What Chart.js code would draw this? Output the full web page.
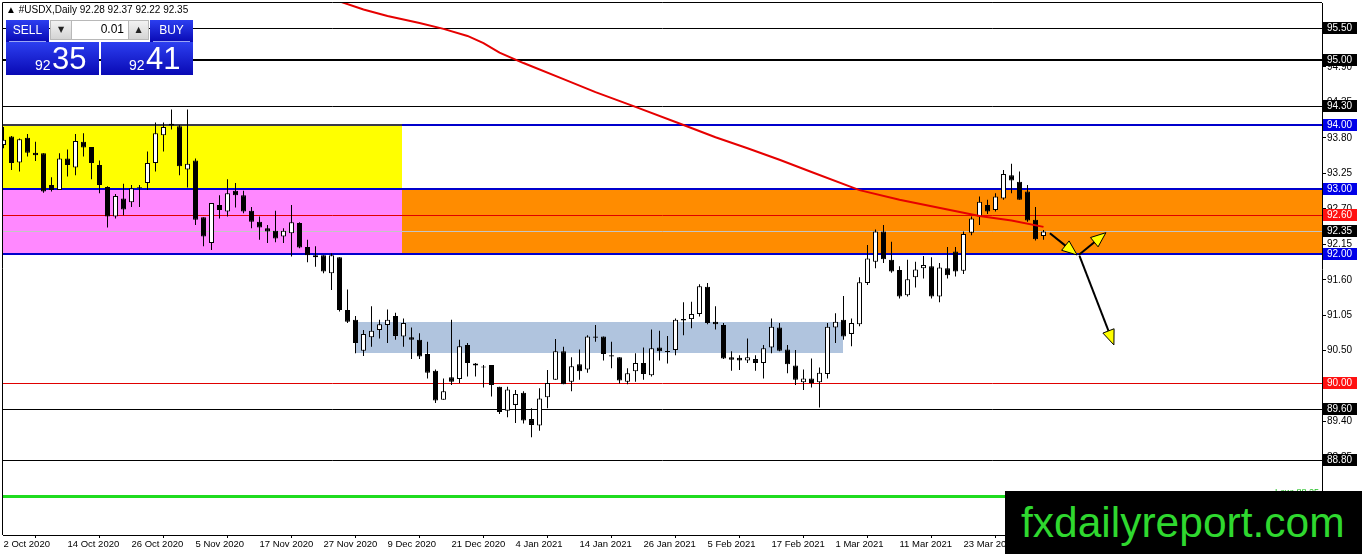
<!DOCTYPE html>
<html>
<head>
<meta charset="utf-8">
<script src="https://cdn.jsdelivr.net/npm/chart.js@4.4.0/dist/chart.umd.min.js"></script>
<style>
html,body{margin:0;padding:0;background:#fff;overflow:hidden}
#wrap{position:relative;width:1362px;height:554px;background:#fff}
#c{position:absolute;left:0;top:0}
.t{position:absolute;font-family:"Liberation Sans",Arial,sans-serif;white-space:nowrap}
#title{left:6px;top:4px;font-size:10px;color:#000}
.blue{position:absolute;background:linear-gradient(#2c3ff0,#0909b4)}
.btn{position:absolute;color:#fff;font-family:"Liberation Sans",Arial,sans-serif;font-size:12px;text-align:center;line-height:21px}
.uline{position:absolute;height:1px;background:#9aa6f5}
.spin{position:absolute;background:linear-gradient(#f2f2f2,#d4d4d4);border:1px solid #b8b8b8;box-sizing:border-box;font-size:8px;text-align:center;line-height:17px;color:#222;font-family:"DejaVu Sans",sans-serif}
.inp{position:absolute;background:#fff;border:1px solid #b8b8b8;box-sizing:border-box;font-family:"Liberation Sans",Arial,sans-serif;font-size:12px;text-align:right;padding-right:4px;line-height:17px;color:#000}
.big{position:absolute;height:33px;color:#fff;font-family:"Liberation Sans",Arial,sans-serif}
.big .s{position:absolute;font-size:14px;top:15px}
.big .l{position:absolute;font-size:31px;top:-1px}
#wm{position:absolute;left:1005px;top:491px;width:357px;height:63px;background:#000;color:#2fd82f;font-family:"Liberation Sans",Arial,sans-serif;font-size:42.5px;line-height:63px;text-indent:16px;white-space:nowrap;overflow:hidden}
</style>
</head>
<body>
<div id="wrap">
<canvas id="c" width="1362" height="554"></canvas>
<div id="title" class="t"></div>
<div class="blue" style="left:6px;top:20px;width:43px;height:22px"></div>
<div class="blue" style="left:150px;top:20px;width:43px;height:22px"></div>
<div class="blue" style="left:6px;top:42px;width:93px;height:33px"></div>
<div class="blue" style="left:101px;top:42px;width:92px;height:33px"></div>
<div class="btn" style="left:6px;top:20px;width:43px;height:21px">SELL</div>
<div class="btn" style="left:150px;top:20px;width:43px;height:21px">BUY</div>
<div class="uline" style="left:9px;top:41px;width:37px"></div>
<div class="uline" style="left:153px;top:41px;width:37px"></div>
<div class="spin" style="left:50px;top:20px;width:22px;height:20px">▼</div>
<div class="inp" style="left:71px;top:20px;width:58px;height:20px">0.01</div>
<div class="spin" style="left:128px;top:20px;width:21px;height:20px">▲</div>
<div class="big" style="left:6px;top:42px;width:93px"><span class="s" style="left:29px">92</span><span class="l" style="left:46px">35</span></div>
<div class="big" style="left:101px;top:42px;width:92px"><span class="s" style="left:28px">92</span><span class="l" style="left:45px">41</span></div>
<div id="wm">fxdailyreport.com</div>
</div>
<script>
// ---------- DATA ----------
const symbolName = '#USDX,Daily';
const opens = [93.69,93.82,93.42,93.80,93.57,93.56,93.07,92.99,93.48,93.34,
93.74,93.66,93.38,93.04,92.58,92.86,92.80,93.02,93.10,93.41,
93.84,94.02,93.98,93.31,93.45,92.57,92.17,92.76,92.66,92.98,
92.91,92.67,92.50,92.40,92.36,92.27,92.32,92.48,92.11,91.98,
91.98,91.70,91.95,91.13,90.98,90.50,90.71,90.82,90.90,91.04,
90.72,90.71,90.67,90.45,90.19,89.74,90.09,90.06,90.59,90.27,
90.25,90.28,89.94,89.57,89.66,89.85,89.44,89.34,89.78,90.05,
90.49,90.02,90.29,90.21,90.72,90.72,90.43,90.40,90.02,90.18,
90.31,90.12,90.55,90.48,90.51,90.99,90.99,91.07,91.49,90.95,
90.90,90.40,90.39,90.35,90.37,90.31,90.55,90.86,90.52,90.27,
90.01,90.07,90.01,90.14,90.86,90.98,90.76,90.91,91.55,91.88,
92.35,91.91,91.75,91.36,91.64,91.78,91.81,91.34,91.78,92.04,
91.74,92.33,92.58,92.76,92.68,92.86,93.22,93.12,92.97,92.53,
92.28];
const highs = [93.97,93.83,93.79,93.86,93.74,93.56,93.19,93.56,93.62,93.86,
93.87,93.66,93.45,93.05,92.93,93.09,93.07,93.07,93.59,94.04,
94.04,94.24,94.00,94.24,93.48,92.57,92.79,92.91,93.16,93.10,
92.98,92.73,92.58,92.45,92.67,92.40,92.76,92.49,92.22,92.12,
91.98,92.01,91.95,91.45,91.04,90.82,91.19,90.98,91.14,91.09,
91.00,90.86,90.77,90.64,90.21,90.07,90.98,90.67,90.62,90.31,
90.28,90.28,89.94,89.94,89.89,89.87,89.61,89.92,90.20,90.68,
90.56,90.40,90.52,90.74,90.90,90.72,90.64,90.40,90.23,90.46,
90.55,90.83,90.81,90.73,91.00,91.25,91.26,91.53,91.55,91.19,
90.93,90.49,90.43,90.69,90.43,90.59,91.00,90.93,90.59,90.51,
90.21,90.38,90.24,90.93,91.08,91.35,91.00,91.64,92.14,92.38,
92.45,92.19,91.81,91.91,91.88,91.97,91.95,91.86,92.11,92.11,
92.35,92.58,92.89,92.84,92.94,93.30,93.40,93.28,93.07,92.73,
92.37];
const lows = [93.64,93.30,93.28,93.51,93.44,92.95,92.97,92.99,93.20,93.22,
93.51,93.16,92.94,92.41,92.55,92.60,92.73,92.73,92.99,93.28,
93.59,93.93,93.22,93.03,92.45,92.12,92.06,92.55,92.58,92.72,
92.63,92.40,92.22,92.17,92.18,92.17,91.96,92.09,91.87,91.80,
91.70,91.44,91.11,90.93,90.46,90.42,90.56,90.69,90.62,90.67,
90.56,90.37,90.37,90.07,89.69,89.74,89.97,90.00,90.10,90.10,
89.93,89.79,89.52,89.47,89.38,89.37,89.16,89.26,89.61,90.05,
89.98,89.87,90.05,90.16,90.64,90.35,90.23,89.99,89.98,90.02,
90.05,90.10,90.35,90.30,90.43,90.74,90.85,91.03,90.91,90.83,
90.37,90.19,90.20,90.31,90.19,90.07,90.46,90.49,90.15,89.97,
89.89,89.93,89.62,90.07,90.62,90.67,90.57,90.88,91.52,91.78,
91.86,91.71,91.31,91.34,91.48,91.62,91.31,91.25,91.62,91.65,
91.69,92.29,92.45,92.62,92.66,92.84,92.94,92.84,92.50,92.21,
92.22];
const closes = [93.77,93.41,93.78,93.57,93.53,92.97,92.99,93.48,93.38,93.75,
93.65,93.41,93.07,92.58,92.90,92.69,93.02,93.03,93.41,93.87,
93.97,93.99,93.36,93.40,92.53,92.27,92.79,92.68,92.94,92.91,
92.66,92.50,92.41,92.35,92.24,92.36,92.49,92.10,91.98,91.95,
91.73,91.98,91.13,90.95,90.62,90.76,90.81,90.91,90.98,90.73,
90.93,90.67,90.41,90.16,89.73,89.87,90.02,90.57,90.31,90.30,
90.24,89.97,89.55,89.90,89.83,89.42,89.35,89.76,90.00,90.49,
89.98,90.26,90.18,90.72,90.70,90.45,90.41,90.04,90.15,90.31,
90.14,90.54,90.49,90.49,90.98,90.97,91.07,91.50,90.93,90.91,
90.38,90.36,90.35,90.40,90.31,90.54,90.87,90.50,90.29,90.05,
90.07,90.00,90.16,90.87,90.95,90.72,90.93,91.56,91.93,92.35,
91.92,91.73,91.34,91.61,91.76,91.83,91.34,91.79,91.67,91.73,
92.31,92.55,92.81,92.66,92.89,93.24,93.14,92.84,92.52,92.23,
92.35];

// moving average read at these bar numbers
const maBars   = [40, 45, 48, 52, 55, 58, 60, 62, 65, 70, 74, 79, 85, 89, 93, 97, 101, 107, 112, 118, 122, 126, 130];
const maValues = [96.00, 95.79, 95.69, 95.58, 95.49, 95.38, 95.27, 95.12, 94.96, 94.71, 94.51, 94.28, 94.00, 93.81, 93.64, 93.46, 93.27, 92.99, 92.84, 92.69, 92.59, 92.52, 92.42];

// axis ticks
const priceTicks = [88.85, 89.40, 89.95, 90.50, 91.05, 91.60, 92.15, 92.70, 93.25, 93.80, 94.35, 94.90, 95.45];
const dateTickBars = [0, 8, 16, 24, 32, 40, 48, 56, 64, 72, 80, 88, 96, 104, 112, 120];
const dateTickLabels = ['2 Oct 2020','14 Oct 2020','26 Oct 2020','5 Nov 2020','17 Nov 2020','27 Nov 2020','9 Dec 2020','21 Dec 2020','4 Jan 2021','14 Jan 2021','26 Jan 2021','5 Feb 2021','17 Feb 2021','1 Mar 2021','11 Mar 2021','23 Mar 2021'];

// horizontal levels
const levelValues = [95.50, 95.00, 94.30, 94.00, 93.00, 92.60, 92.35, 92.00, 90.00, 89.60, 88.80];
const levelKinds  = ['black','black2','black','blue','blue','red','price','blue','red','black','black'];
const lowValue = 88.25;

// zones (bar range and price range)
const zoneFromBar = [-1, -1, 49.8, 43.95];
const zoneToBar   = [49.8, 49.8, 170, 104.95];
const zoneLow     = [93.00, 92.00, 92.00, 90.47];
const zoneHigh    = [94.02, 93.00, 93.00, 90.95];
const zoneKinds   = ['yellow','pink','orange','steel'];

// drawn arrows (bar, price)
const arrowFrom = [[130.8, 92.32], [134.4, 91.985], [134.5, 91.97]];
const arrowTo   = [[134.2, 91.985], [137.8, 92.33], [138.8, 90.59]];

// ---------- STYLES ----------
const zoneColors = {yellow:'#ffff00', pink:'#ff88ff', orange:'#ff8c00', steel:'#b0c4de'};
const levelStyles = {
  black:{line:'#000000', w:1, box:'#000000'},
  black2:{line:'#000000', w:2, box:'#000000'},
  blue:{line:'#0000cc', w:2, box:'#0000e8'},
  red:{line:'#e00000', w:1, box:'#ff1010'},
  price:{line:'#c4c4c4', w:1, box:'#000000'}
};
const FONT = '"Liberation Sans", Arial, sans-serif';

const n = closes.length;
document.getElementById('title').textContent =
  '\u25B2 ' + symbolName + '  ' + [opens[n-1], highs[n-1], lows[n-1], closes[n-1]].map(v => v.toFixed(2)).join(' ');

const overlay = {
  id: 'overlay',
  beforeDatasetsDraw(chart) {
    const {ctx, chartArea: a, scales: {x, y}} = chart;
    ctx.save();
    ctx.beginPath(); ctx.rect(a.left, a.top, a.right - a.left, a.bottom - a.top); ctx.clip();
    zoneKinds.forEach((k, i) => {
      const x1 = Math.round(x.getPixelForValue(zoneFromBar[i]));
      const x2 = Math.round(x.getPixelForValue(zoneToBar[i]));
      const y1 = Math.round(y.getPixelForValue(zoneHigh[i]));
      const y2 = Math.round(y.getPixelForValue(zoneLow[i]));
      ctx.fillStyle = zoneColors[k];
      ctx.fillRect(x1, y1, x2 - x1, y2 - y1);
    });
    levelValues.forEach((v, i) => {
      const st = levelStyles[levelKinds[i]];
      let py = Math.round(y.getPixelForValue(v));
      if (st.w % 2 === 1) py += 0.5;
      ctx.strokeStyle = st.line; ctx.lineWidth = st.w;
      ctx.beginPath(); ctx.moveTo(a.left, py); ctx.lineTo(a.right, py); ctx.stroke();
      // a line lying on the top edge of the yellow zone shows dark over it
      if (Math.abs(v - zoneHigh[0]) < 0.05) {
        const xe = Math.round(x.getPixelForValue(zoneToBar[0]));
        ctx.strokeStyle = '#3a3a48';
        ctx.beginPath(); ctx.moveTo(a.left, py); ctx.lineTo(xe, py); ctx.stroke();
      }
    });
    const ly = Math.round(y.getPixelForValue(lowValue));
    ctx.strokeStyle = '#1fdc1f'; ctx.lineWidth = 3;
    ctx.beginPath(); ctx.moveTo(a.left, ly + 0.5); ctx.lineTo(a.right, ly + 0.5); ctx.stroke();
    ctx.fillStyle = '#1fbf1f'; ctx.font = '9px ' + FONT; ctx.textAlign = 'right'; ctx.textBaseline = 'alphabetic';
    ctx.fillText('Low: ' + lowValue.toFixed(2), a.right - 3, ly - 1);
    ctx.restore();
  },
  afterDatasetsDraw(chart) {
    const {ctx, scales: {x, y}} = chart;
    ctx.save();
    arrowFrom.forEach((p, i) => {
      const x1 = x.getPixelForValue(p[0]), y1 = y.getPixelForValue(p[1]);
      const x2 = x.getPixelForValue(arrowTo[i][0]), y2 = y.getPixelForValue(arrowTo[i][1]);
      const ang = Math.atan2(y2 - y1, x2 - x1);
      const hl = 15, hw = 6;
      const bx = x2 - hl * Math.cos(ang), by = y2 - hl * Math.sin(ang);
      ctx.strokeStyle = '#000'; ctx.lineWidth = 2;
      ctx.beginPath(); ctx.moveTo(x1, y1); ctx.lineTo(bx, by); ctx.stroke();
      ctx.beginPath();
      ctx.moveTo(x2, y2);
      ctx.lineTo(bx + hw * Math.sin(ang), by - hw * Math.cos(ang));
      ctx.lineTo(bx - hw * Math.sin(ang), by + hw * Math.cos(ang));
      ctx.closePath();
      ctx.fillStyle = '#ffff00'; ctx.fill();
      ctx.lineWidth = 1; ctx.stroke();
    });
    ctx.restore();
  },
  afterDraw(chart) {
    const {ctx, chartArea: a, scales: {y}} = chart;
    ctx.save();
    ctx.strokeStyle = '#000'; ctx.lineWidth = 1;
    ctx.beginPath();
    ctx.moveTo(a.left - 0.5, a.bottom); ctx.lineTo(a.left - 0.5, a.top - 0.5); ctx.lineTo(a.right, a.top - 0.5);
    ctx.stroke();
    ctx.font = '10px ' + FONT; ctx.textAlign = 'left'; ctx.textBaseline = 'middle';
    levelValues.forEach((v, i) => {
      const st = levelStyles[levelKinds[i]];
      const py = Math.round(y.getPixelForValue(v));
      ctx.fillStyle = st.box;
      ctx.fillRect(a.right + 1, py - 6, 34, 12);
      ctx.fillStyle = '#fff';
      ctx.fillText(v.toFixed(2), a.right + 5, py + 0.5);
    });
    ctx.restore();
  }
};

new Chart(document.getElementById('c'), {
  type: 'bar',
  data: {
    datasets: [
      {
        type: 'line', label: 'MA',
        data: maBars.map((b, i) => ({x: b, y: maValues[i]})),
        borderColor: '#e60000', borderWidth: 2, pointRadius: 0, tension: 0, order: 1
      },
      {
        label: 'Body',
        data: opens.map((o, i) => ({x: i, y: [o, closes[i]]})),
        backgroundColor: opens.map((o, i) => closes[i] >= o ? '#ffffff' : '#000000'),
        borderColor: '#000000', borderWidth: 1, borderSkipped: false,
        barThickness: 5, grouped: false, inflateAmount: 0, minBarLength: 1, order: 2
      },
      {
        label: 'Wick',
        data: lows.map((l, i) => ({x: i, y: [l, highs[i]]})),
        backgroundColor: '#000000', borderWidth: 0,
        barThickness: 1, grouped: false, inflateAmount: 0, order: 3
      }
    ]
  },
  options: {
    responsive: false,
    animation: false,
    devicePixelRatio: 1,
    layout: {padding: {left: 3, top: 3, right: 0, bottom: 0}},
    plugins: {legend: {display: false}, tooltip: {enabled: false}},
    scales: {
      x: {
        type: 'linear', position: 'bottom',
        min: -0.0625, max: 164.8125, offset: false,
        afterBuildTicks: s => { s.ticks = dateTickBars.map(v => ({value: v})); },
        afterFit: s => { s.height = 19; s.paddingLeft = 0; s.paddingRight = 0; },
        ticks: {
          autoSkip: false, maxRotation: 0, minRotation: 0, align: 'start', padding: 1,
          color: '#000', font: {family: FONT, size: 9.5},
          callback: v => { const k = dateTickBars.indexOf(v); return k >= 0 ? dateTickLabels[k] : ''; }
        },
        grid: {drawOnChartArea: false, drawTicks: true, tickLength: 3, color: '#000'},
        border: {display: true, color: '#000', width: 1}
      },
      y: {
        type: 'linear', position: 'right',
        min: 87.643, max: 95.891,
        afterBuildTicks: s => { s.ticks = priceTicks.map(v => ({value: v})); },
        afterFit: s => { s.width = 40; s.paddingTop = 0; s.paddingBottom = 0; },
        ticks: {
          padding: 1, color: '#000', font: {family: FONT, size: 10},
          callback: v => Number(v).toFixed(2)
        },
        grid: {drawOnChartArea: false, drawTicks: true, tickLength: 4, color: '#000'},
        border: {display: true, color: '#000', width: 1}
      }
    }
  },
  plugins: [overlay]
});
</script>
</body>
</html>
